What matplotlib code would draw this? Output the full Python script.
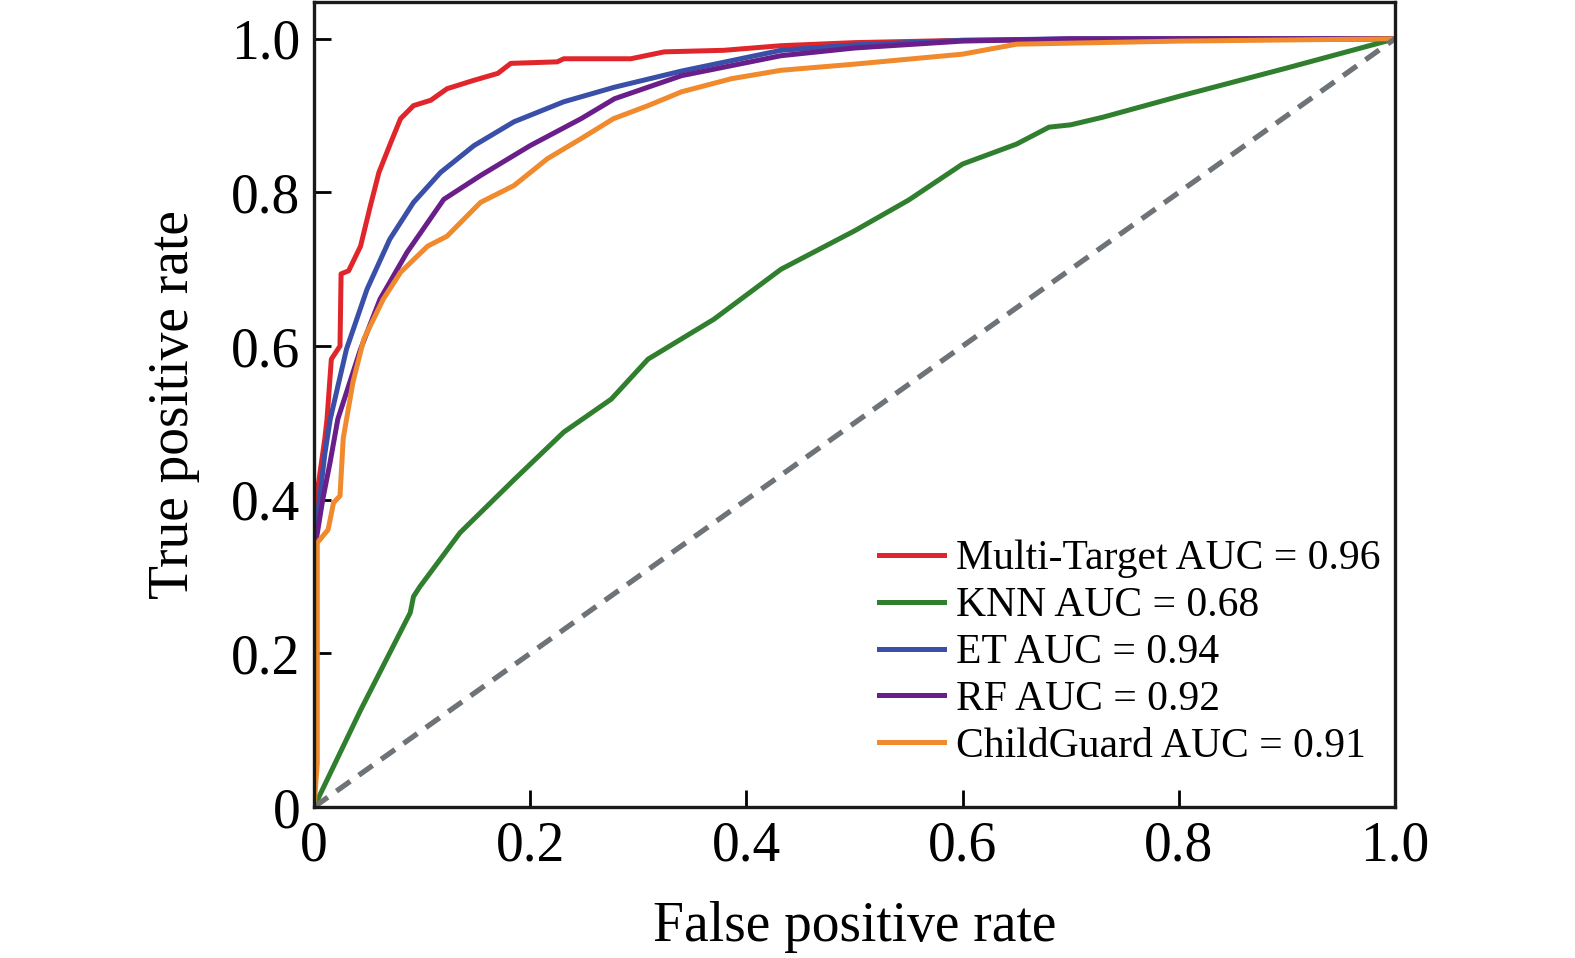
import matplotlib.pyplot as plt

plt.rcParams['font.family'] = ['Liberation Serif', 'DejaVu Serif']

# ROC points
mt_fpr = [0, 0, 0.005, 0.01, 0.012, 0.016, 0.024, 0.025, 0.032, 0.043, 0.052, 0.060, 0.071, 0.080,
          0.092, 0.108, 0.123, 0.148, 0.170, 0.182, 0.225, 0.231, 0.293, 0.324, 0.379, 0.432,
          0.5, 0.6, 0.8, 1.0]
mt_tpr = [0, 0.38, 0.43, 0.48, 0.505, 0.583, 0.60, 0.694, 0.698, 0.730, 0.782, 0.826, 0.865, 0.896,
          0.913, 0.920, 0.935, 0.946, 0.955, 0.968, 0.970, 0.974, 0.974, 0.983, 0.985, 0.991,
          0.995, 0.998, 1.0, 1.0]

knn_fpr = [0, 0.043, 0.089, 0.092, 0.098, 0.135, 0.185, 0.231, 0.275, 0.309, 0.370, 0.432,
           0.5, 0.55, 0.6, 0.65, 0.68, 0.7, 0.73, 0.8, 0.9, 1.0]
knn_tpr = [0, 0.126, 0.253, 0.274, 0.287, 0.357, 0.426, 0.488, 0.531, 0.583, 0.635, 0.700,
           0.75, 0.79, 0.837, 0.863, 0.885, 0.888, 0.898, 0.925, 0.962, 1.0]

et_fpr = [0, 0, 0.005, 0.01, 0.015, 0.030, 0.049, 0.070, 0.092, 0.117, 0.148, 0.185, 0.231,
          0.278, 0.340, 0.432, 0.5, 0.6, 0.7, 0.8, 1.0]
et_tpr = [0, 0.33, 0.40, 0.46, 0.505, 0.596, 0.674, 0.739, 0.787, 0.826, 0.861, 0.892, 0.918,
          0.937, 0.958, 0.985, 0.992, 0.998, 1.0, 1.0, 1.0]

rf_fpr = [0, 0, 0.008, 0.015, 0.022, 0.043, 0.061, 0.086, 0.120, 0.154, 0.200, 0.247, 0.278,
          0.340, 0.432, 0.5, 0.6, 0.7, 0.8, 1.0]
rf_tpr = [0, 0.33, 0.40, 0.45, 0.505, 0.596, 0.661, 0.722, 0.791, 0.822, 0.861, 0.896, 0.922,
          0.952, 0.978, 0.988, 0.997, 1.0, 1.0, 1.0]

cg_fpr = [0, 0.003, 0.003, 0.003, 0.013, 0.018, 0.024, 0.027, 0.036, 0.046, 0.064, 0.080, 0.105,
          0.123, 0.154, 0.185, 0.216, 0.247, 0.277, 0.309, 0.340, 0.386, 0.432, 0.5, 0.6,
          0.65, 0.8, 1.0]
cg_tpr = [0, 0.057, 0.21, 0.344, 0.361, 0.396, 0.405, 0.480, 0.553, 0.609, 0.661, 0.696, 0.730,
          0.743, 0.787, 0.809, 0.844, 0.870, 0.896, 0.913, 0.931, 0.948, 0.959, 0.967, 0.980,
          0.993, 0.997, 1.0]

labels = ['Multi-Target AUC = 0.96', 'KNN AUC = 0.68', 'ET AUC = 0.94',
          'RF AUC = 0.92', 'ChildGuard AUC = 0.91']
colors = ['#e0262b', '#2f7f2f', '#3a4fa8', '#6a1e8a', '#f08a2c']

fig = plt.figure(figsize=(15.75, 9.58), dpi=100)
ax = fig.add_axes([0.1994, 0.1576, 0.6863, 0.8404])

curves = [(mt_fpr, mt_tpr), (knn_fpr, knn_tpr), (et_fpr, et_tpr), (rf_fpr, rf_tpr), (cg_fpr, cg_tpr)]
for (fx, ty), lab, c in zip(curves, labels, colors):
    ax.plot(fx, ty, color=c, lw=3.6, label=lab)

ax.plot([0, 1], [0, 1], color='#6e7378', lw=3.8, linestyle=(0, (3.2, 2.0)))

ax.set_xlim(0, 1.0)
ax.set_ylim(0, 1.048)
ticks = [0, 0.2, 0.4, 0.6, 0.8, 1.0]
tick_labels = ['0', '0.2', '0.4', '0.6', '0.8', '1.0']
ax.set_xticks(ticks)
ax.set_xticklabels(tick_labels)
ax.set_yticks(ticks)
ax.set_yticklabels(tick_labels)
ax.tick_params(direction='in', length=12, width=2, labelsize=40, pad=10)
for s in ax.spines.values():
    s.set_linewidth(2.4)
    s.set_color('#1a1a1a')

ax.set_xlabel('False positive rate', fontsize=40, labelpad=20)
ax.set_ylabel('True positive rate', fontsize=40, labelpad=22)

ax.legend(loc='lower right', frameon=False, fontsize=30, handlelength=1.55,
          handletextpad=0.3, labelspacing=0.2, borderaxespad=0.3, bbox_to_anchor=(1.014, 0.015))

plt.savefig('out.png')
